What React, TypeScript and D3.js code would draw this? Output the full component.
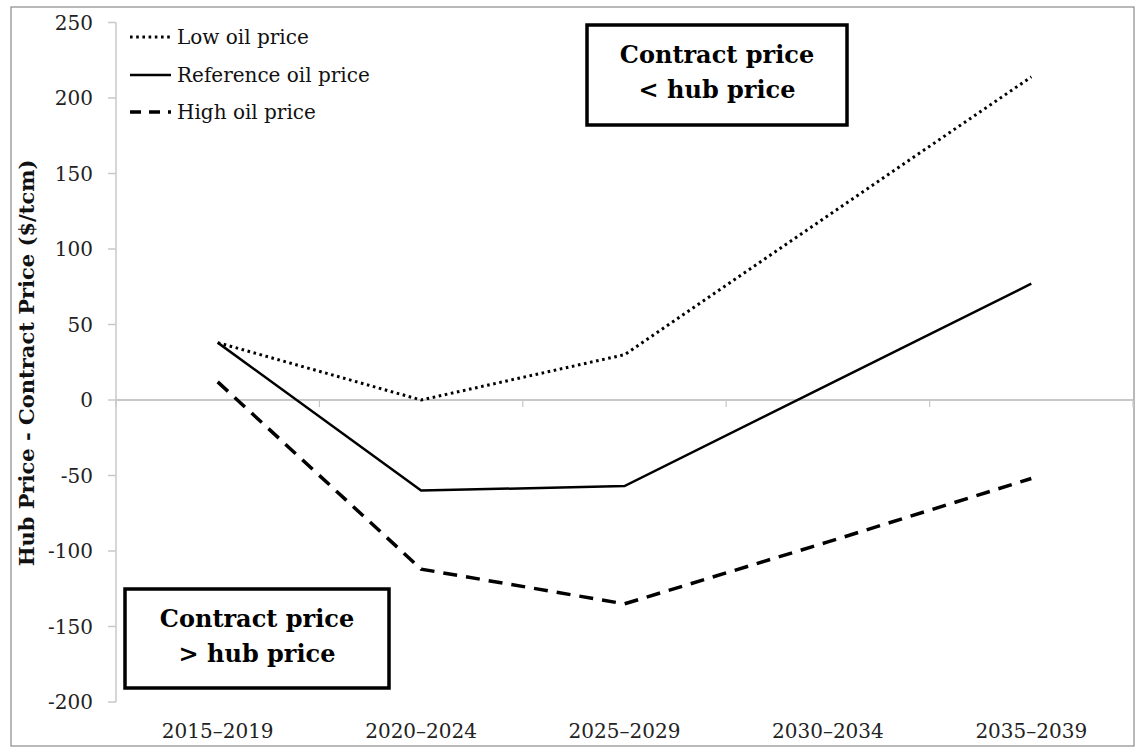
import React from "react";
import * as d3 from "d3";

const categories = ["2015–2019", "2020–2024", "2025–2029", "2030–2034", "2035–2039"];
const lowOil = [38, 0, 30, 122, 214];
const referenceOil = [38, -60, -57, 10, 77];
const highOil = [12, -112, -135, -94, -52];
const yTicks = [-200, -150, -100, -50, 0, 50, 100, 150, 200, 250];
const legendLabels = ["Low oil price", "Reference oil price", "High oil price"];
const yTitle = "Hub Price - Contract Price ($/tcm)";
const boxTop = ["Contract price", "< hub price"];
const boxBottom = ["Contract price", "> hub price"];

const W = 1135;
const H = 747;
const FONT = "'DejaVu Serif', serif";

export default function App() {
  const x = d3.scaleBand<string>().domain(categories).range([116, 1133]).padding(0);
  const y = d3.scaleLinear().domain([-200, 250]).range([702, 22.5]);
  const cx = (c: string) => (x(c) as number) + x.bandwidth() / 2;
  const line = d3
    .line<number>()
    .x((_, i) => cx(categories[i]))
    .y((d) => y(d));

  const series = [
    { data: lowOil, dash: "2.6 3.6", width: 3, cap: "butt" },
    { data: referenceOil, dash: "", width: 2.5, cap: "butt" },
    { data: highOil, dash: "14 9", width: 3.5, cap: "butt" },
  ];

  const boundaries = categories.map((c) => x(c) as number).concat([1133]);
  const grey = "#c8c8c8";

  return (
    <svg
      width={W}
      height={H}
      style={{ position: "absolute", left: 0, top: 0, background: "#fff" }}
      fontFamily={FONT}
    >
      <rect x={11} y={7} width={1123} height={739} fill="#fff" stroke="#8a8a8a" strokeWidth={1.2} />
      {/* y axis */}
      <line x1={116} x2={116} y1={y(250)} y2={y(-200)} stroke={grey} strokeWidth={1.5} />
      {yTicks.map((t) => (
        <g key={t}>
          <line x1={108} x2={116} y1={y(t)} y2={y(t)} stroke={grey} strokeWidth={1.5} />
          <text x={93} y={y(t)} dy="0.35em" textAnchor="end" fontSize={20} fill="#222">
            {t}
          </text>
        </g>
      ))}
      {/* zero line (x axis) */}
      <line x1={116} x2={1133} y1={y(0)} y2={y(0)} stroke={grey} strokeWidth={2} />
      {boundaries.map((b, i) => (
        <line key={i} x1={b} x2={b} y1={y(0)} y2={y(0) + 7} stroke={grey} strokeWidth={1.2} />
      ))}
      {categories.map((c) => (
        <text key={c} x={cx(c)} y={738} textAnchor="middle" fontSize={20} fill="#222">
          {c}
        </text>
      ))}
      {/* y title */}
      <text
        transform={`translate(34, ${363}) rotate(-90)`}
        textAnchor="middle"
        fontSize={21}
        fontWeight="bold"
        fill="#111"
      >
        {yTitle}
      </text>
      {/* series */}
      {series.map((s, i) => (
        <path
          key={i}
          d={line(s.data) as string}
          fill="none"
          stroke="#000"
          strokeWidth={s.width}
          strokeDasharray={s.dash || undefined}
          strokeLinecap={s.cap as any}
        />
      ))}
      {/* legend */}
      {legendLabels.map((l, i) => {
        const ly = [37, 75, 112][i];
        const s = series[i];
        return (
          <g key={l}>
            <line
              x1={130}
              x2={171}
              y1={ly}
              y2={ly}
              stroke="#000"
              strokeWidth={s.width}
              strokeDasharray={i === 2 ? "11 8" : s.dash || undefined}
            />
            <text x={177} y={ly} dy="0.35em" fontSize={20} fill="#111">
              {l}
            </text>
          </g>
        );
      })}
      {/* annotation boxes */}
      <rect x={587} y={25} width={260} height={100} fill="#fff" stroke="#000" strokeWidth={3.5} />
      {boxTop.map((t, i) => (
        <text key={i} x={717} y={63 + i * 35} textAnchor="middle" fontSize={24} fontWeight="bold" fill="#000">
          {t}
        </text>
      ))}
      <rect x={125} y={589} width={264} height={99} fill="#fff" stroke="#000" strokeWidth={3.5} />
      {boxBottom.map((t, i) => (
        <text key={i} x={257} y={627 + i * 35} textAnchor="middle" fontSize={24} fontWeight="bold" fill="#000">
          {t}
        </text>
      ))}
    </svg>
  );
}
